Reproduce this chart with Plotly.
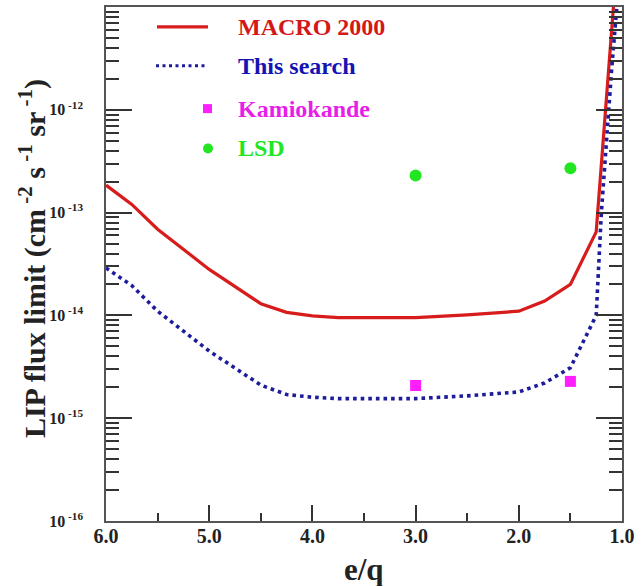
import plotly.graph_objects as go

# e/q grid and flux limits (cm^-2 s^-1 sr^-1)
macro_eq = [6.0, 5.75, 5.5, 5.0, 4.5, 4.25, 4.0, 3.75, 3.0, 2.5, 2.0, 1.75, 1.5, 1.25, 1.083]
macro_flux = [1.85e-13, 1.2e-13, 6.9e-14, 2.8e-14, 1.3e-14, 1.07e-14, 9.9e-15, 9.5e-15,
              9.5e-15, 1.01e-14, 1.1e-14, 1.38e-14, 2.0e-14, 6.5e-14, 1.0e-11]

search_eq = [6.0, 5.75, 5.5, 5.0, 4.5, 4.25, 4.0, 3.75, 3.0, 2.5, 2.0, 1.75, 1.5,
             1.25, 1.2, 1.15, 1.1, 1.05]
search_flux = [2.9e-14, 1.95e-14, 1.1e-14, 4.5e-15, 2.1e-15, 1.7e-15, 1.6e-15, 1.55e-15,
               1.55e-15, 1.65e-15, 1.8e-15, 2.2e-15, 3.1e-15, 1.0e-14, 1.0e-13, 5.7e-13,
               2.5e-12, 1.0e-11]

kamiokande_eq = [3.0, 1.5]
kamiokande_flux = [2.08e-15, 2.28e-15]

lsd_eq = [3.0, 1.5]
lsd_flux = [2.29e-13, 2.7e-13]

x_tickvals = [6.0, 5.0, 4.0, 3.0, 2.0, 1.0]
x_ticktext = ["6.0", "5.0", "4.0", "3.0", "2.0", "1.0"]
y_exponents = [-16, -15, -14, -13, -12]

legend_labels = ["MACRO 2000", "This search", "Kamiokande", "LSD"]

FONT = "Liberation Serif"
RED = "#d81c1c"
BLUE = "#1c1c9c"
MAGENTA = "#ff1eff"
GREEN = "#22e622"
TEXT_COLORS = ["#d41818", "#1414b4", "#e81ee8", "#22e622"]

y_tickvals = [10.0 ** e for e in y_exponents]
y_ticktext = ["10<sup> %d</sup>" % e for e in y_exponents]
y_minor = [m * 10.0 ** e for e in range(-16, -11) for m in range(2, 10)]

fig = go.Figure()
fig.add_trace(go.Scatter(x=macro_eq, y=macro_flux, mode="lines",
                         line=dict(color=RED, width=3.2), name=legend_labels[0]))
fig.add_trace(go.Scatter(x=search_eq, y=search_flux, mode="lines",
                         line=dict(color=BLUE, width=3.6, dash="3.6px,4px"),
                         name=legend_labels[1]))
fig.add_trace(go.Scatter(x=kamiokande_eq, y=kamiokande_flux, mode="markers",
                         marker=dict(color=MAGENTA, symbol="square", size=11),
                         name=legend_labels[2]))
fig.add_trace(go.Scatter(x=lsd_eq, y=lsd_flux, mode="markers",
                         marker=dict(color=GREEN, symbol="circle", size=12),
                         name=legend_labels[3]))

# Key box in the upper-left corner: symbol column, then coloured labels
PLOT_W, PLOT_H = 516.0, 516.0


def px(xp):
    return (xp - 106.0) / PLOT_W


def py(yp):
    return (521.0 - yp) / PLOT_H


rows = [25, 64, 107, 147]
shapes = [
    dict(type="line", xref="paper", yref="paper", x0=px(157), x1=px(208),
         y0=py(rows[0]), y1=py(rows[0]), line=dict(color=RED, width=3.2)),
    dict(type="line", xref="paper", yref="paper", x0=px(156), x1=px(208),
         y0=py(rows[1]), y1=py(rows[1]), line=dict(color=BLUE, width=3, dash="3px,3.5px")),
    dict(type="rect", xref="paper", yref="paper", x0=px(203), x1=px(212),
         y0=py(rows[2] + 4.5), y1=py(rows[2] - 4.5), line=dict(width=0), fillcolor=MAGENTA),
    dict(type="circle", xref="paper", yref="paper", x0=px(203), x1=px(213),
         y0=py(rows[3] + 5), y1=py(rows[3] - 5), line=dict(width=0), fillcolor=GREEN),
]

annotations = [
    dict(text=lbl, xref="paper", yref="paper", x=px(236), y=py(r),
         xanchor="left", yanchor="middle", showarrow=False,
         font=dict(family=FONT, size=24, color=c, weight="bold"))
    for lbl, r, c in zip(legend_labels, rows, TEXT_COLORS)
]
annotations += [
    dict(text="e/q", xref="paper", yref="paper", x=0.5, y=-0.095,
         xanchor="center", yanchor="middle", showarrow=False,
         font=dict(family=FONT, size=31, color="#222", weight="bold")),
    dict(text="LIP flux limit (cm<sup> -2</sup> s<sup> -1</sup> sr<sup> -1</sup>)",
         xref="paper", yref="paper", x=-0.141, y=0.51, textangle=-90,
         xanchor="center", yanchor="middle", showarrow=False,
         font=dict(family=FONT, size=30, color="#222", weight="bold")),
]

fig.update_layout(
    width=641, height=586,
    margin=dict(l=106, r=19, t=5, b=65),
    paper_bgcolor="white", plot_bgcolor="white",
    font=dict(family=FONT, color="#222", weight="bold"),
    showlegend=False,
    shapes=shapes,
    annotations=annotations,
    xaxis=dict(
        range=[6.0, 1.0], tickmode="array", tickvals=x_tickvals, ticktext=x_ticktext,
        ticks="inside", ticklen=16, tickwidth=1.5, tickcolor="#333",
        minor=dict(dtick=0.5, tick0=0.5, ticks="inside", ticklen=8, tickwidth=1.5,
                   tickcolor="#333", showgrid=False),
        showline=True, linecolor="#555", linewidth=1.6, mirror=True,
        showgrid=False, zeroline=False,
        tickfont=dict(family=FONT, size=20, color="#222", weight="bold"),
        ticklabelstandoff=-4,
    ),
    yaxis=dict(
        type="log", range=[-16, -11], tickmode="array",
        tickvals=y_tickvals, ticktext=y_ticktext,
        ticks="inside", ticklen=26, tickwidth=1.5, tickcolor="#333",
        minor=dict(tickmode="array", tickvals=y_minor, ticks="inside", ticklen=13,
                   tickwidth=1.5, tickcolor="#333", showgrid=False),
        showline=True, linecolor="#555", linewidth=1.6, mirror="ticks",
        showgrid=False, zeroline=False,
        tickfont=dict(family=FONT, size=16, color="#222", weight="bold"),
        ticklabelstandoff=18,
    ),
)

fig.write_html("out.html")
